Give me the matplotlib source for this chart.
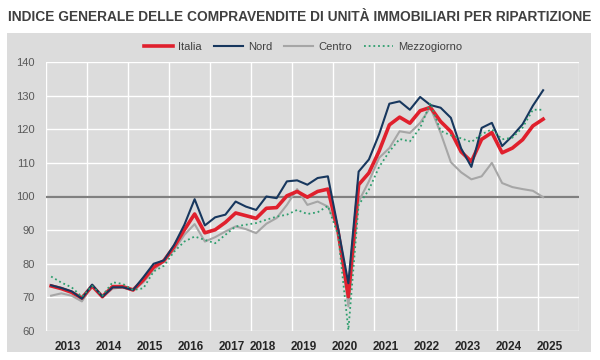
import matplotlib
matplotlib.use("Agg")
import matplotlib.pyplot as plt
from matplotlib.patches import Rectangle

plt.rcParams['font.family'] = ['Liberation Sans Narrow', 'Liberation Sans', 'DejaVu Sans']

# ---- data (quarterly, 2013 Q1 .. 2025 Q1) ----
years = [2013, 2014, 2015, 2016, 2017, 2018, 2019, 2020, 2021, 2022, 2023, 2024, 2025]
n_categories = 52  # 2013 Q1 .. 2025 Q4 (axis categories)

italia = [73.4, 72.6, 71.5, 69.8, 73.4, 70.2, 73.2, 73.2, 72.2, 75.2, 79.0, 80.9,
          85.1, 90.1, 94.8, 89.2, 90.1, 92.3, 95.1, 94.3, 93.5, 96.5, 96.7, 100.2,
          101.5, 99.8, 101.5, 102.2, 89.5, 70.2, 103.5, 107.0, 113.5, 121.3, 123.6, 121.8,
          125.5, 126.5, 122.3, 119.3, 113.3, 110.4, 117.0, 119.0, 113.0, 114.4, 116.9, 121.0,
          123.0]
nord = [73.6, 72.8, 71.8, 69.6, 73.8, 70.2, 73.0, 73.0, 72.2, 76.0, 80.0, 81.0,
        85.6, 91.6, 99.2, 91.4, 93.8, 94.6, 98.5, 97.0, 96.0, 100.0, 99.5, 104.5,
        104.8, 103.5, 105.5, 106.0, 90.5, 74.2, 107.4, 111.0, 118.5, 127.6, 128.3, 125.8,
        129.6, 127.2, 126.4, 123.4, 114.3, 108.8, 120.4, 121.9, 115.0, 118.0, 121.5, 127.0,
        131.6]
centro = [70.5, 71.2, 70.5, 68.8, 73.4, 70.2, 72.6, 73.0, 72.0, 74.5, 78.2, 80.6,
          84.1, 88.6, 91.8, 86.6, 87.9, 89.6, 91.1, 90.3, 89.1, 91.9, 93.6, 97.5,
          102.2, 97.5, 98.5, 97.0, 90.5, 67.3, 98.5, 104.5, 111.5, 114.4, 119.4, 118.9,
          121.9, 126.5, 118.9, 110.2, 107.2, 105.1, 106.0, 110.0, 104.0, 102.8, 102.2, 101.7,
          99.8]
mezzogiorno = [76.2, 74.4, 73.0, 70.2, 73.4, 70.5, 74.5, 74.0, 72.2, 72.7, 77.7, 79.4,
               83.6, 86.6, 88.1, 87.1, 86.1, 88.6, 91.1, 91.6, 92.1, 93.1, 94.0, 94.6,
               96.0, 94.8, 95.3, 97.2, 88.5, 60.3, 97.5, 102.0, 108.8, 113.4, 117.1, 116.4,
               120.4, 127.8, 119.5, 118.2, 117.3, 116.2, 118.5, 120.0, 117.0, 117.5, 120.5, 125.8,
               125.8]

series_names = ["Italia", "Nord", "Centro", "Mezzogiorno"]
title = "INDICE GENERALE DELLE COMPRAVENDITE DI UNITÀ IMMOBILIARI PER RIPARTIZIONE"
y_ticks = [60, 70, 80, 90, 100, 110, 120, 130, 140]

# ---- figure ----
W, H = 600, 360
fig = plt.figure(figsize=(W / 100, H / 100), dpi=100)
fig.patch.set_facecolor("white")
panel = "#dcdcdc"
fig.patches.append(Rectangle((7 / W, 1 - 352 / H), 584 / W, 319 / H,
                             transform=fig.transFigure, facecolor=panel,
                             edgecolor="none", zorder=-10))

ax = fig.add_axes([46 / W, 1 - 331 / H, 533 / W, 269 / H])
ax.set_zorder(1)
ax.set_facecolor(panel)
for s in ax.spines.values():
    s.set_visible(False)

x = list(range(len(italia)))
ax.set_xlim(-0.5, n_categories - 0.5)
ax.set_ylim(60, 140)

# grid
for k in range(0, n_categories + 1, 4):
    ax.axvline(k - 0.5, color="white", lw=1.0, zorder=1)
for v in y_ticks:
    ax.axhline(v, color="white", lw=1.0, zorder=1)
ax.axhline(100, color="#808080", lw=1.6, zorder=1.5)

ax.plot(x, centro, color="#a6a6a6", lw=1.5, zorder=2, label="Centro")
ax.plot(x, italia, color="#e0202d", lw=2.6, zorder=3, label="Italia")
ax.plot(x, nord, color="#17375e", lw=1.5, zorder=4, label="Nord")
ax.plot(x, mezzogiorno, color="#2e9e6e", lw=1.3, ls=(0, (1, 1.6)), zorder=5,
        label="Mezzogiorno")

# ticks (label placement as in the reference: shifted one quarter from 2018 on)
ax.set_yticks(y_ticks)
ax.set_yticklabels([str(v) for v in y_ticks], color="#595959", fontsize=8)
tick_pos = [4 * (yr - years[0]) + (1.6 if yr < 2018 else 0.6) for yr in years]
ax.set_xticks(tick_pos)
ax.set_xticklabels([str(yr) for yr in years], fontweight="bold", color="#262626",
                   fontsize=8.5)
ax.tick_params(axis="both", length=0)
ax.tick_params(axis="y", pad=8)
ax.tick_params(axis="x", pad=7)

# title
fig.text(0.5, 1 - 17 / H, title, ha="center", va="center", fontsize=9.9,
         fontweight="bold", color="#404040")

# legend
handles, labels = ax.get_legend_handles_labels()
order = [labels.index(nm) for nm in series_names]
leg = fig.legend([handles[i] for i in order], [labels[i] for i in order],
                 loc="center", bbox_to_anchor=(0.505, 1 - 47 / H), ncol=4,
                 frameon=False, fontsize=8, handlelength=2.6,
                 columnspacing=1.1, handletextpad=0.45)
for t in leg.get_texts():
    t.set_color("#404040")

fig.savefig("out.png", dpi=100, facecolor="white")
